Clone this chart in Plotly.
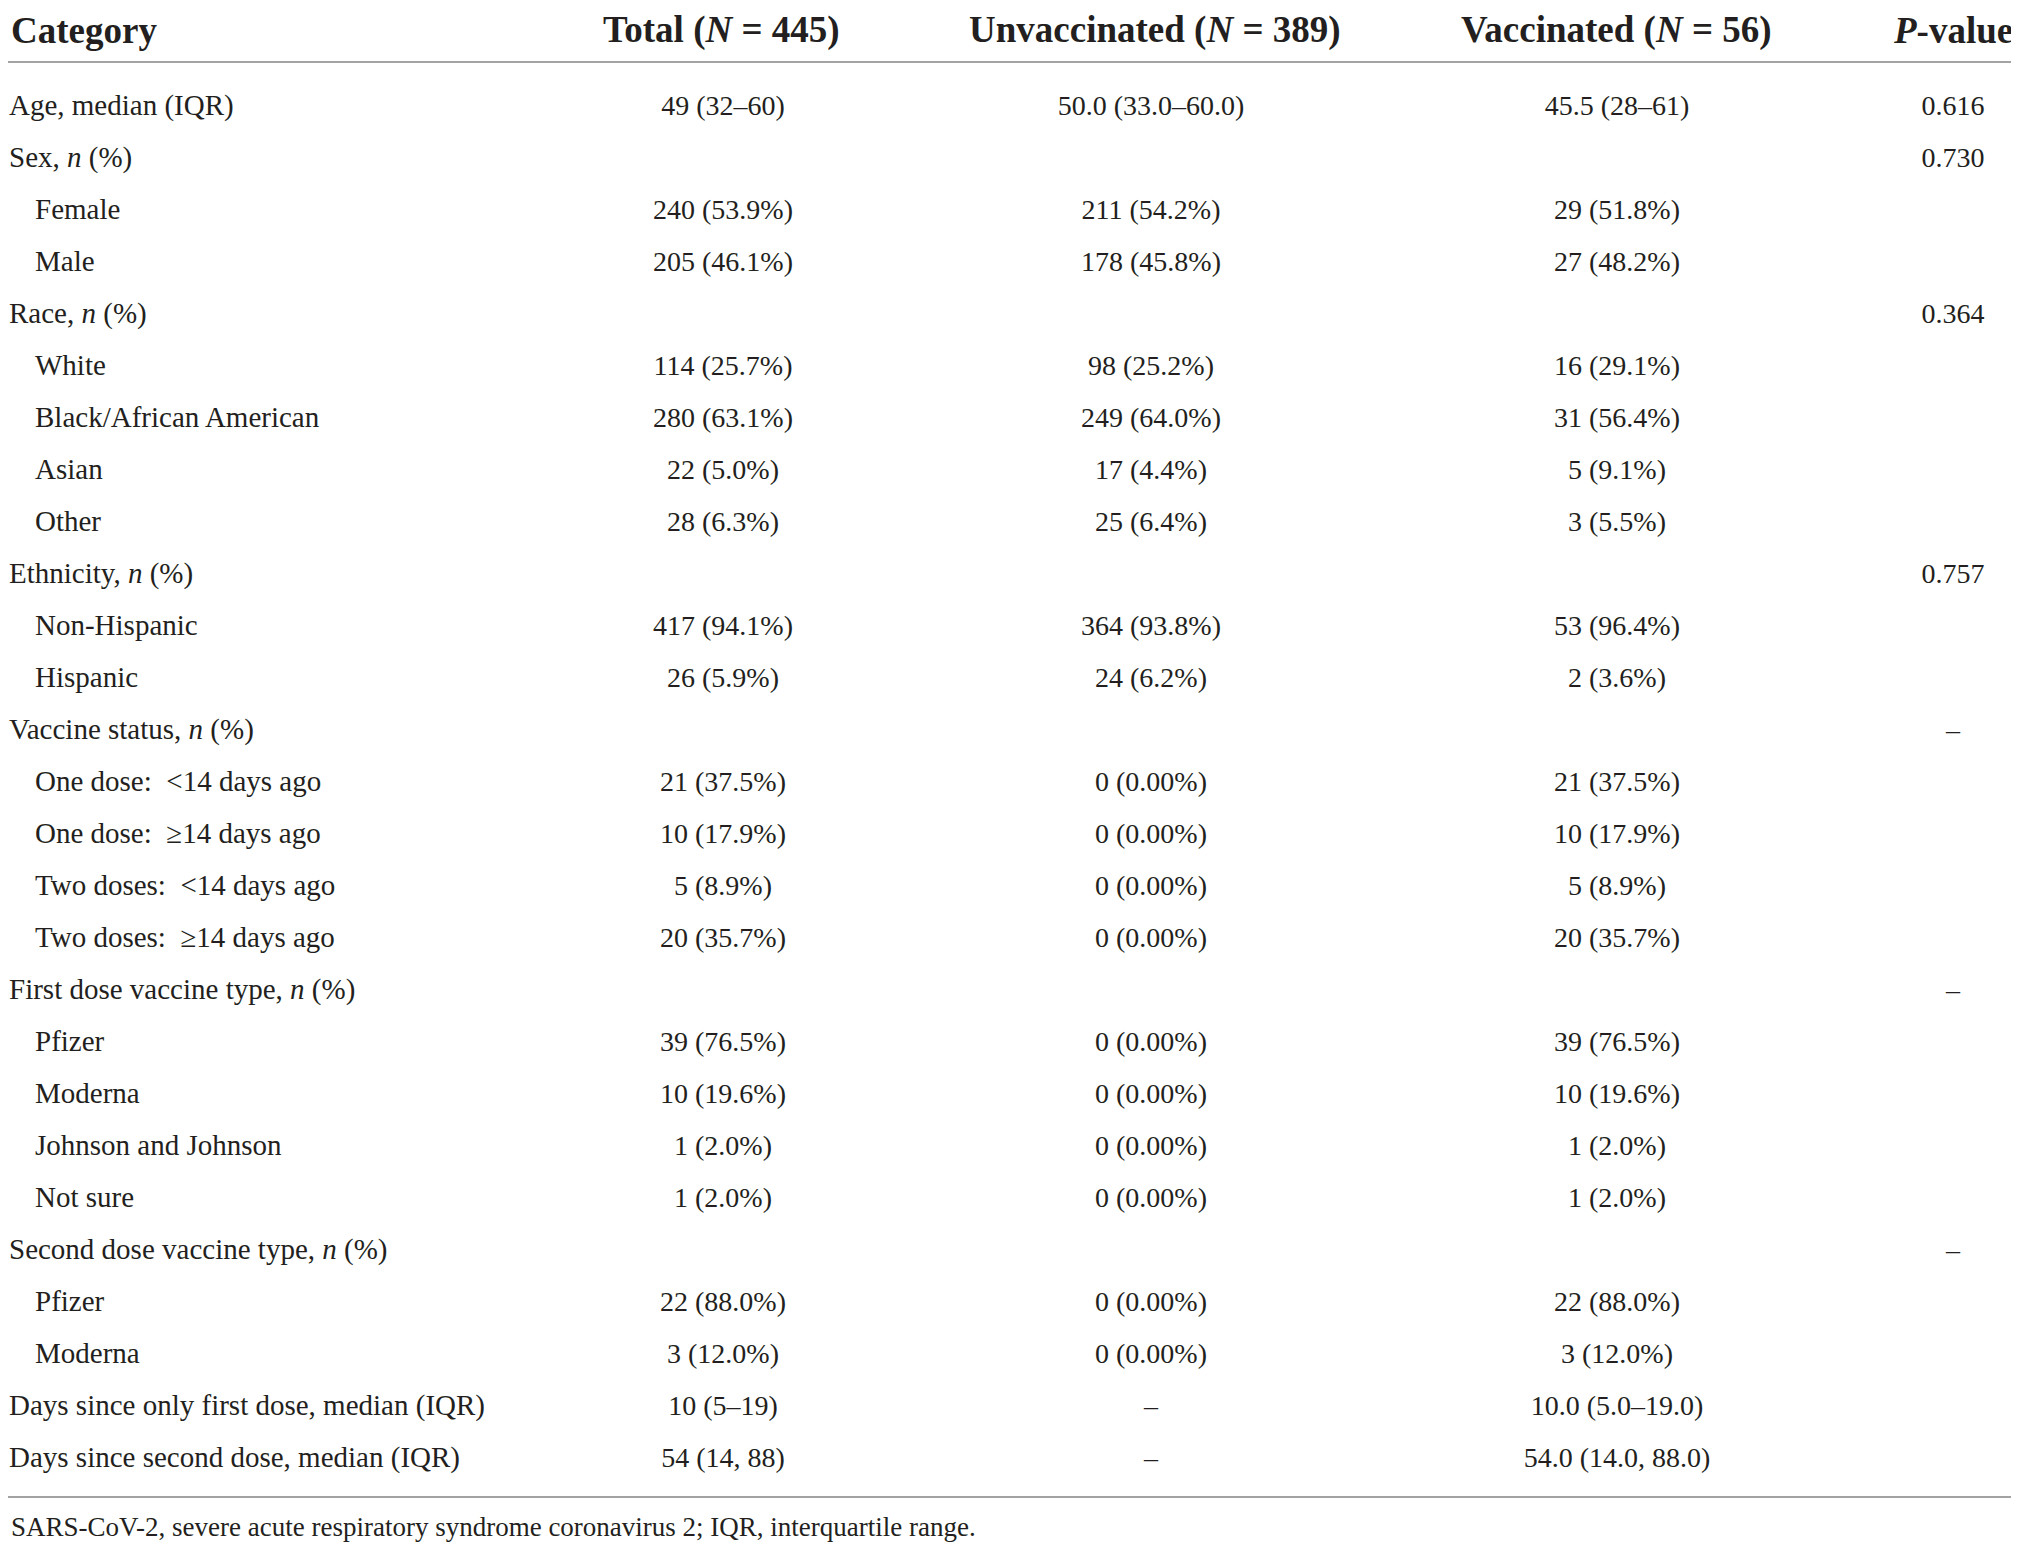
import plotly.graph_objects as go

# ---- table content ----
headers = [
    "Category",
    "Total (<i>N</i> = 445)",
    "Unvaccinated (<i>N</i> = 389)",
    "Vaccinated (<i>N</i> = 56)",
    "<i>P</i>-value",
]

categories = [
    "Age, median (IQR)",
    "Sex, <i>n</i> (%)",
    "Female",
    "Male",
    "Race, <i>n</i> (%)",
    "White",
    "Black/African American",
    "Asian",
    "Other",
    "Ethnicity, <i>n</i> (%)",
    "Non-Hispanic",
    "Hispanic",
    "Vaccine status, <i>n</i> (%)",
    "One dose:  <14 days ago",
    "One dose:  ≥14 days ago",
    "Two doses:  <14 days ago",
    "Two doses:  ≥14 days ago",
    "First dose vaccine type, <i>n</i> (%)",
    "Pfizer",
    "Moderna",
    "Johnson and Johnson",
    "Not sure",
    "Second dose vaccine type, <i>n</i> (%)",
    "Pfizer",
    "Moderna",
    "Days since only first dose, median (IQR)",
    "Days since second dose, median (IQR)",
]

# 0 = group row, 1 = sub row (indented)
indent = [0, 0, 1, 1, 0, 1, 1, 1, 1, 0, 1, 1, 0, 1, 1, 1, 1, 0, 1, 1, 1, 1, 0, 1, 1, 0, 0]

total = [
    "49 (32–60)", "", "240 (53.9%)", "205 (46.1%)", "", "114 (25.7%)", "280 (63.1%)",
    "22 (5.0%)", "28 (6.3%)", "", "417 (94.1%)", "26 (5.9%)", "", "21 (37.5%)",
    "10 (17.9%)", "5 (8.9%)", "20 (35.7%)", "", "39 (76.5%)", "10 (19.6%)",
    "1 (2.0%)", "1 (2.0%)", "", "22 (88.0%)", "3 (12.0%)", "10 (5–19)", "54 (14, 88)",
]

unvaccinated = [
    "50.0 (33.0–60.0)", "", "211 (54.2%)", "178 (45.8%)", "", "98 (25.2%)", "249 (64.0%)",
    "17 (4.4%)", "25 (6.4%)", "", "364 (93.8%)", "24 (6.2%)", "", "0 (0.00%)",
    "0 (0.00%)", "0 (0.00%)", "0 (0.00%)", "", "0 (0.00%)", "0 (0.00%)",
    "0 (0.00%)", "0 (0.00%)", "", "0 (0.00%)", "0 (0.00%)", "–", "–",
]

vaccinated = [
    "45.5 (28–61)", "", "29 (51.8%)", "27 (48.2%)", "", "16 (29.1%)", "31 (56.4%)",
    "5 (9.1%)", "3 (5.5%)", "", "53 (96.4%)", "2 (3.6%)", "", "21 (37.5%)",
    "10 (17.9%)", "5 (8.9%)", "20 (35.7%)", "", "39 (76.5%)", "10 (19.6%)",
    "1 (2.0%)", "1 (2.0%)", "", "22 (88.0%)", "3 (12.0%)", "10.0 (5.0–19.0)",
    "54.0 (14.0, 88.0)",
]

p_values = [
    "0.616", "0.730", "", "", "0.364", "", "", "", "", "0.757", "", "", "–",
    "", "", "", "", "–", "", "", "", "", "–", "", "", "", "",
]

footnote = "SARS-CoV-2, severe acute respiratory syndrome coronavirus 2; IQR, interquartile range."

# ---- layout (page pixels; the page body adds an 8px margin) ----
OFF = 8
W, H = 2019 - OFF, 1550 - 2 * OFF
FIRST_ROW = 108      # page y of first data row
ROW_H = 52           # row pitch
HEADER_Y = 30
RULES = [62, 1497]
FOOT_Y = 1527

LABEL_X = 9
INDENT_PX = 26
COL_X = [723, 1151, 1617, 1953]
HEADER_X = [LABEL_X, 721, 1155, 1616, 1953]

FONT = "Liberation Serif"
INK = "#231f20"
RULE = "#a3a3a3"


def page_to_row(y):
    return (y - FIRST_ROW) / ROW_H


def page_to_paper(y):
    return 1 - (y - OFF) / H


rows = list(range(len(categories)))

fig = go.Figure()

fig.add_trace(
    go.Scatter(
        x=[LABEL_X + INDENT_PX * lv for lv in indent],
        y=rows,
        text=categories,
        mode="text",
        textposition="middle right",
        textfont=dict(family=FONT, size=29, color=INK),
        cliponaxis=False,
        hoverinfo="skip",
        showlegend=False,
    )
)

for cx, col in zip(COL_X, [total, unvaccinated, vaccinated, p_values]):
    fig.add_trace(
        go.Scatter(
            x=[cx] * len(col),
            y=rows,
            text=col,
            mode="text",
            textposition="middle center",
            textfont=dict(family=FONT, size=28, color=INK),
            cliponaxis=False,
            hoverinfo="skip",
            showlegend=False,
        )
    )

# header row
for i, (hx, head) in enumerate(zip(HEADER_X, headers)):
    fig.add_annotation(
        text=f"<b>{head}</b>", x=hx, y=page_to_paper(HEADER_Y),
        xref="x", yref="paper",
        xanchor="left" if i == 0 else "center", yanchor="middle",
        showarrow=False, font=dict(family=FONT, size=37, color=INK),
    )

for y_px in RULES:
    fig.add_shape(
        type="line", xref="paper", yref="paper",
        x0=0, x1=1, y0=page_to_paper(y_px), y1=page_to_paper(y_px),
        line=dict(color=RULE, width=2),
    )

fig.add_annotation(
    text=footnote, x=LABEL_X, y=page_to_paper(FOOT_Y),
    xref="x", yref="paper", xanchor="left", yanchor="middle",
    showarrow=False, font=dict(family=FONT, size=27, color=INK),
)

fig.update_layout(
    width=W, height=H,
    margin=dict(l=0, r=0, t=0, b=0),
    paper_bgcolor="white",
    plot_bgcolor="white",
    xaxis=dict(range=[OFF, OFF + W], visible=False, fixedrange=True),
    yaxis=dict(range=[page_to_row(OFF + H), page_to_row(OFF)],
               visible=False, fixedrange=True),
)

fig.write_html("out.html")
